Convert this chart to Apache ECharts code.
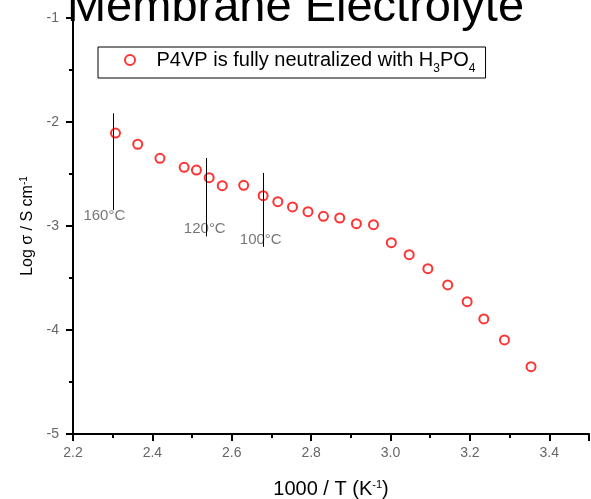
<!DOCTYPE html>
<html>

<head>
    <meta charset="utf-8" />
    <title>Membrane Electrolyte</title>
    <style>
    html, body {
        margin: 0;
        padding: 0;
        background: #fff;
    }
    #chart {
        width: 591px;
        height: 499px;
    }
    </style>
    <script src="https://cdn.jsdelivr.net/npm/echarts@6/dist/echarts.min.js"></script>
</head>

<body>
    <div id="chart"></div>
    <script>
    // 1000 / T (K^-1) and log conductivity
    var invT = [2.307, 2.363, 2.419, 2.480, 2.511, 2.543, 2.576, 2.630, 2.679,
        2.716, 2.753, 2.792, 2.831, 2.872, 2.914, 2.957,
        3.002, 3.047, 3.094, 3.144, 3.193, 3.235, 3.287, 3.354];
    var logSigma = [-2.106, -2.214, -2.349, -2.436, -2.462, -2.535, -2.612, -2.609, -2.708,
        -2.766, -2.817, -2.862, -2.907, -2.923, -2.978, -2.987,
        -3.160, -3.276, -3.410, -3.567, -3.728, -3.894, -4.096, -4.353];

    // temperature marker lines
    var markText = ['160°C', '120°C', '100°C'];
    var markX = [2.302, 2.536, 2.680];
    var markTop = [-1.916, -2.346, -2.490];
    var markBottom = [-2.846, -3.100, -3.200];
    var markLabelX = [2.279, 2.532, 2.673];
    var markLabelY = [-2.904, -3.029, -3.135];

    var seriesName = 'P4VP is fully neutralized with H3PO4';
    var font = '"Liberation Sans", Arial, sans-serif';

    var points = invT.map(function(x, i) {
        return [x, logSigma[i]];
    });

    var lines = markX.map(function(x, i) {
        return [{ coord: [x, markTop[i]] }, { coord: [x, markBottom[i]] }];
    });

    var markLabels = markText.map(function(t, i) {
        return { value: [markLabelX[i], markLabelY[i]], name: t };
    });

    var option = {
        animation: false,
        backgroundColor: '#fff',
        title: {
            text: 'Membrane Electrolyte',
            left: 'center',
            top: -15,
            padding: 0,
            textStyle: {
                fontFamily: font,
                fontSize: 47,
                fontWeight: 'normal',
                color: '#000'
            }
        },
        legend: {
            data: [seriesName],
            left: 98,
            top: 47,
            padding: [3, 10, 3, 26],
            itemHeight: 10,
            itemGap: 0,
            borderColor: '#000',
            borderWidth: 1,
            formatter: function() {
                return '{g|}{a|P4VP is fully neutralized with H}{s|3}{a|PO}{s|4}';
            },
            textStyle: {
                fontFamily: font,
                color: '#000',
                rich: {
                    g: { width: 9, lineHeight: 20, verticalAlign: 'top' },
                    a: { fontFamily: font, fontSize: 20, lineHeight: 20, verticalAlign: 'top', color: '#000' },
                    s: { fontFamily: font, fontSize: 12, lineHeight: 12, verticalAlign: 'top', padding: [13, 0, 0, 0], color: '#000' }
                }
            }
        },
        grid: {
            left: 73,
            right: 2,
            top: 18,
            bottom: 65,
            containLabel: false,
            outerBoundsMode: 'none'
        },
        xAxis: {
            type: 'value',
            min: 2.2,
            max: 3.5,
            interval: 0.2,
            name: '{a|1000 / T (K}{sup|-1}{a|)}',
            nameLocation: 'middle',
            nameGap: 45,
            nameTextStyle: {
                fontFamily: font,
                color: '#000',
                rich: {
                    a: { fontFamily: font, fontSize: 20, lineHeight: 22, verticalAlign: 'top', color: '#000' },
                    sup: { fontFamily: font, fontSize: 11, lineHeight: 11, verticalAlign: 'top', color: '#000' }
                }
            },
            axisLine: { lineStyle: { color: '#000', width: 2 } },
            axisTick: { show: true, inside: false, length: 7, lineStyle: { color: '#000', width: 2 } },
            minorTick: { show: true, splitNumber: 2, length: 4, lineStyle: { color: '#000', width: 2 } },
            splitLine: { show: false },
            minorSplitLine: { show: false },
            axisLabel: {
                margin: 12,
                fontFamily: font,
                fontSize: 14,
                color: '#666',
                showMaxLabel: false,
                formatter: function(v) {
                    return v.toFixed(1);
                }
            }
        },
        yAxis: {
            type: 'value',
            min: -5,
            max: -1,
            interval: 1,
            name: '{a|Log σ / S cm}{sup|-1}',
            nameLocation: 'middle',
            nameGap: 30,
            nameTextStyle: {
                fontFamily: font,
                color: '#000',
                rich: {
                    a: { fontFamily: font, fontSize: 16, lineHeight: 19, verticalAlign: 'top', color: '#000' },
                    sup: { fontFamily: font, fontSize: 10, lineHeight: 10, verticalAlign: 'top', color: '#000' }
                }
            },
            axisLine: { show: true, lineStyle: { color: '#000', width: 2 } },
            axisTick: { show: true, inside: false, length: 7, lineStyle: { color: '#000', width: 2 } },
            minorTick: { show: true, splitNumber: 2, length: 4, lineStyle: { color: '#000', width: 2 } },
            splitLine: { show: false },
            minorSplitLine: { show: false },
            axisLabel: {
                margin: 14,
                fontFamily: font,
                fontSize: 14,
                color: '#666'
            }
        },
        series: [{
                name: seriesName,
                type: 'scatter',
                data: points,
                symbol: 'emptyCircle',
                symbolSize: 9,
                itemStyle: { color: '#ff0000', borderColor: '#ff0000', borderWidth: 1 },
                markLine: {
                    silent: true,
                    symbol: 'none',
                    label: { show: false },
                    lineStyle: { color: '#000', width: 1, type: 'solid' },
                    data: lines
                }
            },
            {
                name: 'markers',
                type: 'scatter',
                data: markLabels,
                symbolSize: 0,
                silent: true,
                label: {
                    show: true,
                    position: 'inside',
                    formatter: '{b}',
                    fontFamily: font,
                    fontSize: 15,
                    color: '#555'
                }
            }
        ]
    };

    var chart = echarts.init(document.getElementById('chart'));
    chart.setOption(option);
    </script>
</body>

</html>
